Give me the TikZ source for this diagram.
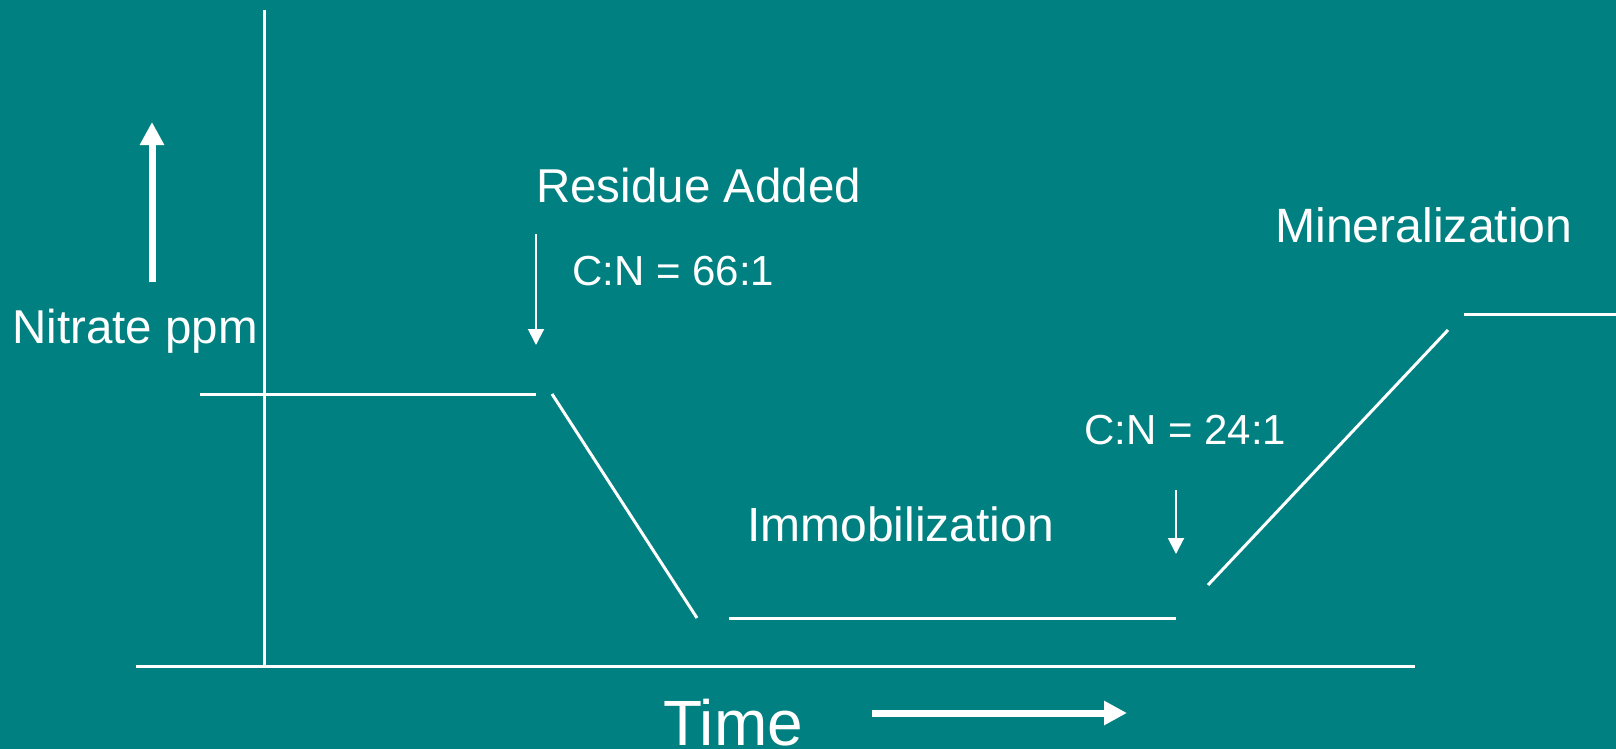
\documentclass[tikz,border=0pt]{standalone}
\usepackage{fontspec}
\setmainfont{Liberation Sans}
\usetikzlibrary{arrows.meta}
\definecolor{teal}{RGB}{0,128,128}
\tikzset{
  curve/.style={draw=white, line width=3pt, line cap=butt},
  thinarrow/.style={draw=white, line width=2pt, -{Triangle[length=16pt,width=16pt]}},
  bigarrow/.style={draw=white, line width=7pt, -{Triangle[length=23pt,width=23pt]}},
  label/.style={text=white, inner sep=0pt, anchor=base west, font=\fontsize{47.5}{50}\selectfont},
  ratio/.style={label, font=\fontsize{42}{45}\selectfont}
}
\begin{document}
\begin{tikzpicture}[x=1pt,y=-1pt]
  \fill[teal] (0,0) rectangle (1616,749);
  \useasboundingbox (0,0) rectangle (1616,749);

  % axes
  \coordinate (ytop) at (264,10);
  \coordinate (ybot) at (264,666);
  \coordinate (xl) at (136,666);
  \coordinate (xr) at (1415,666);
  \draw[curve] (ytop) -- (ybot);
  \draw[curve] (xl) -- (xr);

  % nitrate level over time
  \coordinate (a1) at (200,394);
  \coordinate (a2) at (536,394);
  \coordinate (b1) at (552,394);
  \coordinate (b2) at (697,618);
  \coordinate (c1) at (729,618);
  \coordinate (c2) at (1176,618);
  \coordinate (d1) at (1208,585);
  \coordinate (d2) at (1448,330);
  \coordinate (e1) at (1464,314);
  \coordinate (e2) at (1616,314);
  \draw[curve] (a1) -- (a2);
  \draw[curve] (b1) -- (b2);
  \draw[curve] (c1) -- (c2);
  \draw[curve] (d1) -- (d2);
  \draw[curve] (e1) -- (e2);

  % axis direction arrows
  \coordinate (upS) at (152,282);
  \coordinate (upE) at (152,122);
  \draw[bigarrow] (upS) -- (upE);
  \coordinate (tS) at (872,713);
  \coordinate (tE) at (1127,713);
  \draw[bigarrow] (tS) -- (tE);

  % markers
  \coordinate (r1S) at (536,234);
  \coordinate (r1E) at (536,345);
  \draw[thinarrow] (r1S) -- (r1E);
  \coordinate (r2S) at (1176,490);
  \coordinate (r2E) at (1176,554);
  \draw[thinarrow] (r2S) -- (r2E);

  % labels
  \node[label] (nitrate) at (12,343) {Nitrate ppm};
  \node[label] (residue) at (536,202) {Residue Added};
  \node[ratio] (cn66) at (572,285) {C:N = 66:1};
  \node[label, font=\fontsize{48.2}{50}\selectfont] (mineral) at (1275,242) {Mineralization};
  \node[label, font=\fontsize{48}{50}\selectfont] (immob) at (747,541) {Immobilization};
  \node[ratio] (cn24) at (1084,444) {C:N = 24:1};
  \node[label, font=\fontsize{64}{66}\selectfont] (time) at (663,745) {Time};
\end{tikzpicture}
\end{document}
